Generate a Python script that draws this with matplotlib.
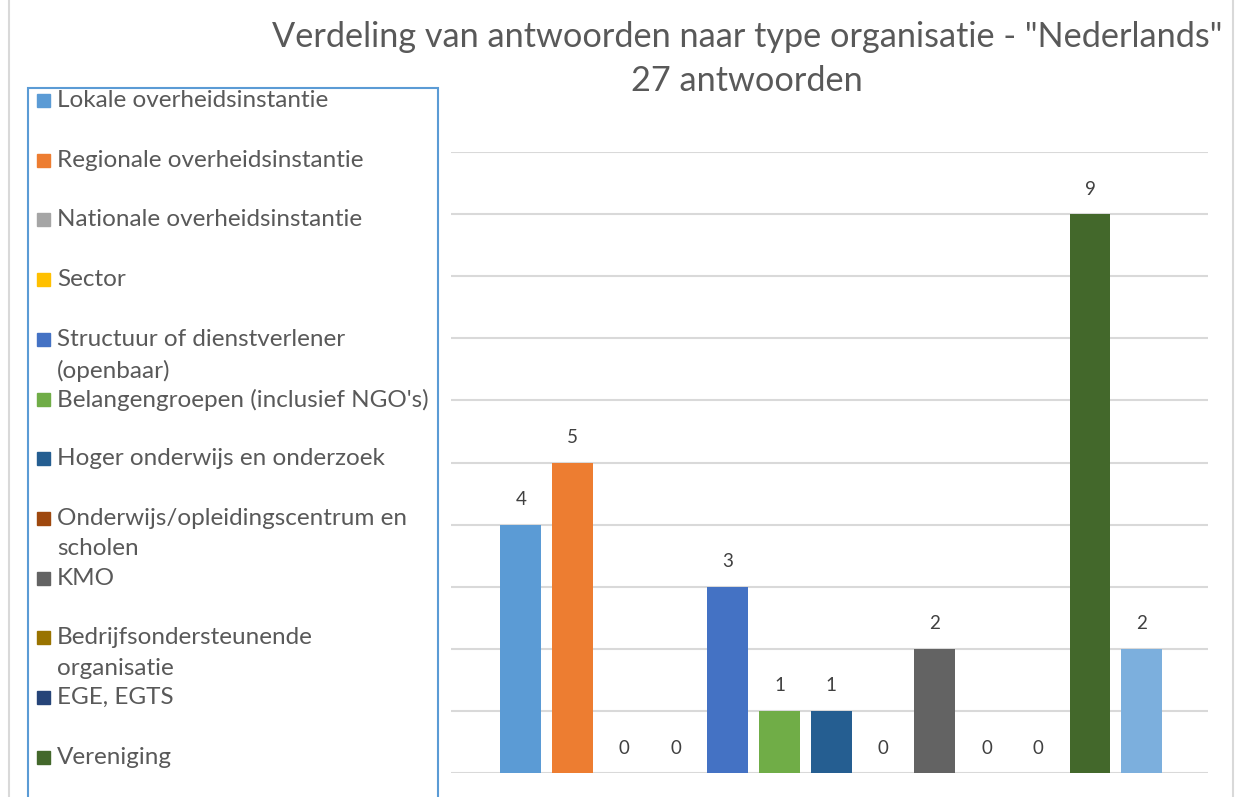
import matplotlib.pyplot as plt
from matplotlib.patches import Rectangle
from matplotlib.lines import Line2D

categories = [
    "Lokale overheidsinstantie",
    "Regionale overheidsinstantie",
    "Nationale overheidsinstantie",
    "Sector",
    "Structuur of dienstverlener\n(openbaar)",
    "Belangengroepen (inclusief NGO's)",
    "Hoger onderwijs en onderzoek",
    "Onderwijs/opleidingscentrum en\nscholen",
    "KMO",
    "Bedrijfsondersteunende\norganisatie",
    "EGE, EGTS",
    "Vereniging",
    "Andere",
]
values = [4, 5, 0, 0, 3, 1, 1, 0, 2, 0, 0, 9, 2]
colors = ["#5B9BD5", "#ED7D31", "#A5A5A5", "#FFC000", "#4472C4", "#70AD47",
          "#255E91", "#9E480E", "#636363", "#997300", "#264478", "#43682B",
          "#7CAFDD"]
title_lines = ['Verdeling van antwoorden naar type organisatie - "Nederlands"',
               '27 antwoorden']

plt.rcParams['font.family'] = ['Lato', 'DejaVu Sans']

W, H = 1236, 797
fig = plt.figure(figsize=(W / 100, H / 100), dpi=100)

# chart area border (left / right edges visible)
for xpx in (8.5, 1232.5):
    fig.add_artist(Line2D([xpx / W, xpx / W], [0, 1], color="#D9D9D9", lw=1.5,
                          transform=fig.transFigure))

ax = fig.add_axes([451 / W, 1 - 773 / H, (1208 - 451) / W, (773 - 152) / H])
x = list(range(len(values)))
ax.bar(x, values, width=0.79, color=colors, zorder=3)
for xi, v in zip(x, values):
    ax.annotate(str(v), (xi, v), xytext=(0, 18), textcoords="offset points",
                ha="center", va="center", fontsize=13.5, color="#404040")

ax.set_xlim(-1.35, 13.28)
ax.set_ylim(0, 10)
ax.set_yticks(range(0, 11))
ax.yaxis.grid(True, color="#D9D9D9", lw=1.5, zorder=0)
ax.tick_params(left=False, bottom=False, labelleft=False, labelbottom=False)
for s in ax.spines.values():
    s.set_visible(False)

# title, two lines
for ypx, line in zip((37, 81), title_lines):
    fig.text(747 / W, 1 - ypx / H, line, ha="center", va="center",
             fontsize=24.7, color="#595959")

# legend box
fig.add_artist(Rectangle((27.5 / W, -0.05), (438 - 27.5) / W, 1.05 - 88 / H,
                         transform=fig.transFigure, fill=False,
                         edgecolor="#5B9BD5", lw=1.5))
for i, (lab, col) in enumerate(zip(categories[:12], colors[:12])):
    ypx = 100 + i * 59.7
    fig.add_artist(Rectangle((37 / W, 1 - (ypx + 7) / H), 13 / W, 13 / H,
                             transform=fig.transFigure, color=col))
    fig.text(57 / W, 1 - (ypx - 10) / H, lab, ha="left", va="top",
             fontsize=17.5, color="#595959", linespacing=1.55)

fig.savefig("out.png", dpi=100)
